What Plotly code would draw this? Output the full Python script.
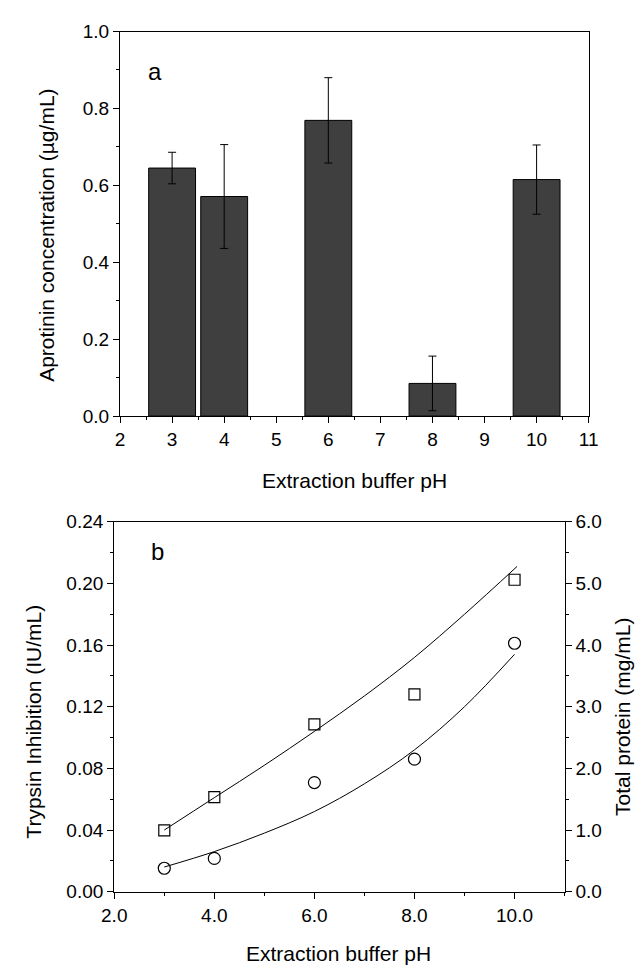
import plotly.graph_objects as go

W, H = 644, 979

# ---- Panel a data ----
ph_a = [3, 4, 6, 8, 10]
aprotinin = [0.645, 0.571, 0.769, 0.085, 0.615]
aprotinin_err = [0.041, 0.135, 0.111, 0.071, 0.090]

# ---- Panel b data ----
ph_b = [3, 4, 6, 8, 10]
trypsin_inhib = [0.0398, 0.0613, 0.1085, 0.1280, 0.2024]       # squares, left axis
total_protein = [0.38, 0.54, 1.77, 2.15, 4.03]                  # circles, right axis
fit_x_sq = [3, 4, 5, 6, 7, 8, 9, 10.05]
fit_y_sq = [0.040, 0.061, 0.082, 0.104, 0.127, 0.152, 0.180, 0.211]
fit_x_ci = [3, 4, 5, 6, 7, 8, 9, 10.0]
fit_y_ci = [0.40, 0.65, 0.95, 1.30, 1.75, 2.30, 3.00, 3.85]

FONT = "Liberation Sans, Arial, sans-serif"
TICKFS = 19
TITLEFS = 21

def px_x(p):
    return p / W

def px_y(p):
    return 1 - p / H

fig = go.Figure()

fig.add_trace(go.Bar(
    x=ph_a, y=aprotinin, width=0.9,
    marker=dict(color="#3f3f3f", line=dict(color="black", width=1)),
    error_y=dict(type="data", array=aprotinin_err, color="black", thickness=1, width=4),
    xaxis="x", yaxis="y", showlegend=False,
))

fig.add_trace(go.Scatter(
    x=fit_x_sq, y=fit_y_sq, mode="lines", line=dict(color="black", width=1, shape="spline"),
    xaxis="x2", yaxis="y2", showlegend=False,
))
fig.add_trace(go.Scatter(
    x=ph_b, y=trypsin_inhib, mode="markers",
    marker=dict(symbol="square-open", size=11, color="black", line=dict(width=1.2)),
    xaxis="x2", yaxis="y2", showlegend=False,
))
fig.add_trace(go.Scatter(
    x=fit_x_ci, y=fit_y_ci, mode="lines", line=dict(color="black", width=1, shape="spline"),
    xaxis="x2", yaxis="y3", showlegend=False,
))
fig.add_trace(go.Scatter(
    x=ph_b, y=total_protein, mode="markers",
    marker=dict(symbol="circle-open", size=12, color="black", line=dict(width=1.2)),
    xaxis="x2", yaxis="y3", showlegend=False,
))

axis_common = dict(
    showline=True, linecolor="black", linewidth=1.2, ticks="outside", ticklen=6,
    tickwidth=1, tickcolor="black", showgrid=False, zeroline=False,
    tickfont=dict(family=FONT, size=TICKFS, color="black"),
)

fig.update_layout(
    width=W, height=H, autosize=False,
    margin=dict(l=0, r=0, t=0, b=0),
    paper_bgcolor="white", plot_bgcolor="white",
    font=dict(family=FONT, color="black"),
    xaxis=dict(domain=[px_x(111), px_x(597)], anchor="y", range=[2, 11],
               tickvals=list(range(2, 12)), mirror=True,
               minor=dict(ticks="outside", ticklen=3, tickcolor="black", dtick=0.5, tick0=2),
               **axis_common),
    yaxis=dict(domain=[px_y(415), px_y(22)], anchor="x", range=[0, 1.0],
               tickvals=[0, 0.2, 0.4, 0.6, 0.8, 1.0], tickformat=".1f", mirror=True,
               minor=dict(ticks="outside", ticklen=3, tickcolor="black", dtick=0.1, tick0=0),
               **axis_common),
    xaxis2=dict(domain=[px_x(105), px_x(572)], anchor="y2", range=[2, 11],
                tickvals=[2, 4, 6, 8, 10], tickformat=".1f", mirror=True,
                minor=dict(ticks="outside", ticklen=3, tickcolor="black", dtick=1, tick0=2),
                **axis_common),
    yaxis2=dict(domain=[px_y(901), px_y(523)], anchor="x2", range=[0, 0.24],
                tickvals=[0, 0.04, 0.08, 0.12, 0.16, 0.20, 0.24], tickformat=".2f",
                minor=dict(ticks="outside", ticklen=3, tickcolor="black", dtick=0.02, tick0=0),
                **axis_common),
    yaxis3=dict(overlaying="y2", anchor="x2", side="right", range=[0, 6],
                tickvals=[0, 1, 2, 3, 4, 5, 6], tickformat=".1f",
                minor=dict(ticks="outside", ticklen=3, tickcolor="black", dtick=0.5, tick0=0),
                **axis_common),
)

def ann(text, x, y, size, angle=0):
    fig.add_annotation(text=text, x=px_x(x), y=px_y(y), xref="paper", yref="paper",
                       showarrow=False, textangle=angle, xanchor="center", yanchor="middle",
                       font=dict(family=FONT, size=size, color="black"))

ann("a", 147, 63, 24)
ann("b", 150, 553, 24)
ann("Extraction buffer pH", 354, 481, TITLEFS)
ann("Extraction buffer pH", 338, 964, TITLEFS)
ann("Aprotinin concentration (µg/mL)", 34, 230, TITLEFS, -90)
ann("Trypsin Inhibition (IU/mL)", 21, 727, TITLEFS, -90)
ann("Total protein (mg/mL)", 632, 722, TITLEFS, -90)

fig.write_html("out.html")
